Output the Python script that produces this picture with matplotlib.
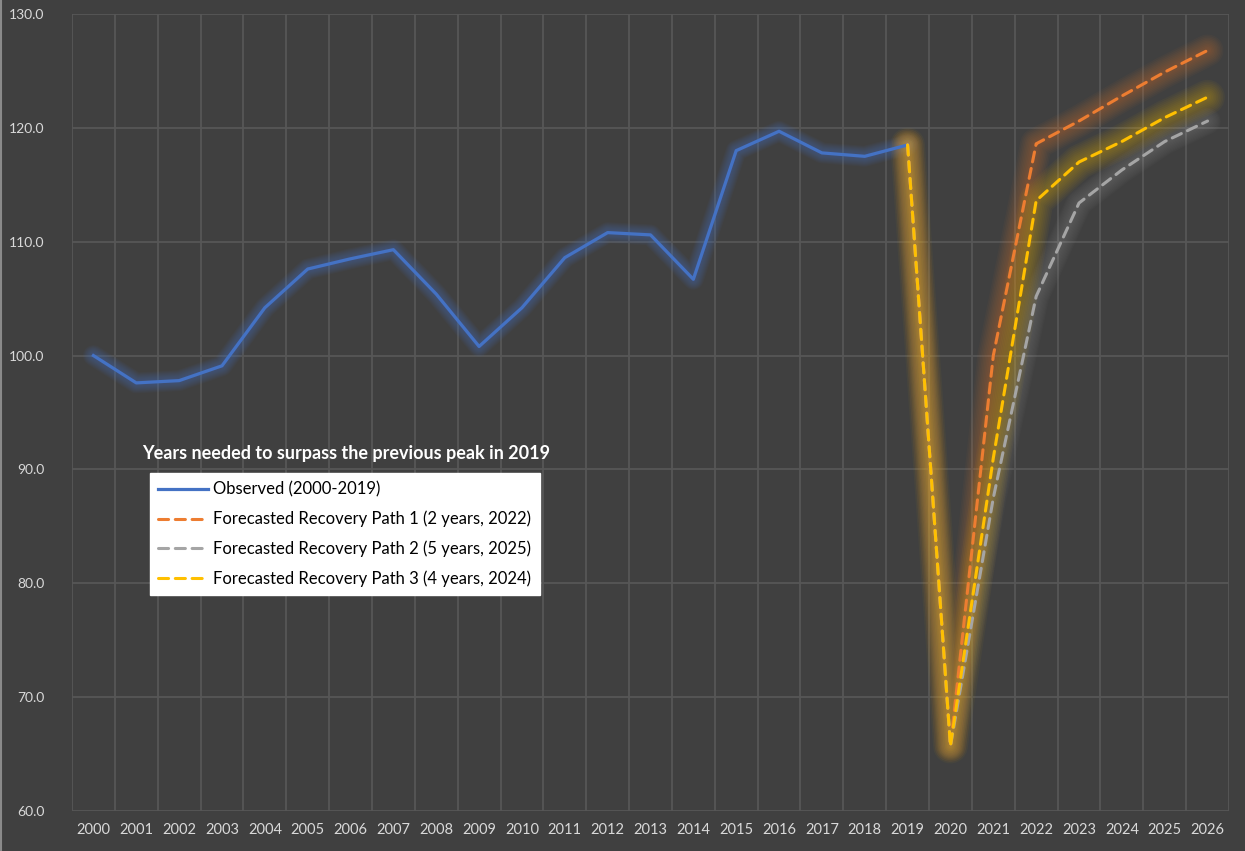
import matplotlib
matplotlib.use("Agg")
import matplotlib.pyplot as plt
import numpy as np

plt.rcParams['font.family'] = ['Lato', 'DejaVu Sans']

years = [str(y) for y in range(2000, 2027)]
observed = [100.0, 97.6, 97.8, 99.1, 104.2, 107.6, 108.5, 109.3, 105.4, 100.8,
            104.2, 108.6, 110.8, 110.6, 106.7, 118.0, 119.7, 117.8, 117.5, 118.5]
fc_years = years[19:]
path1 = [118.5, 65.7, 100.0, 118.6, 120.6, 122.8, 124.9, 126.8]
path2 = [118.5, 65.7, 87.5, 105.2, 113.4, 116.3, 118.8, 120.6]
path3 = [118.5, 65.7, 91.0, 113.6, 117.0, 118.8, 120.9, 122.7]

labels = ["Observed (2000-2019)",
          "Forecasted Recovery Path 1 (2 years, 2022)",
          "Forecasted Recovery Path 2 (5 years, 2025)",
          "Forecasted Recovery Path 3 (4 years, 2024)"]
colors = ["#4472C4", "#ED7D31", "#A5A5A5", "#FFC000"]
title = "Years needed to surpass the previous peak in 2019"

BG = "#404040"
GRID = "#575757"
TXT = "#d9d9d9"

fig = plt.figure(figsize=(12.45, 8.51), dpi=100, facecolor=BG)
ax = fig.add_axes([72/1245, 1-811/851, 1157/1245, 797/851])
ax.set_facecolor(BG)

x_all = np.arange(len(years))
x_obs = x_all[:len(observed)]
x_fc = x_all[19:19+len(path1)]

def glow(x, y, color, wmax, alpha, z, n=10):
    for w in np.linspace(wmax, 3, n):
        ax.plot(x, y, color=color, lw=w, alpha=alpha, solid_capstyle='round',
                solid_joinstyle='round', zorder=z)

# glows
glow(x_obs, observed, colors[0], 15, 0.05, 2)
glow(x_fc, path1, colors[1], 23, 0.04, 2)
glow(x_fc, path2, colors[2], 19, 0.03, 2)
glow(x_fc, path3, colors[3], 25, 0.04, 2)

handles = []
h0, = ax.plot(x_obs, observed, color=colors[0], lw=2.3, solid_joinstyle='round', zorder=5)
handles.append(h0)
for data, c, z in [(path1, colors[1], 6), (path2, colors[2], 6), (path3, colors[3], 7)]:
    h, = ax.plot(x_fc, data, color=c, lw=2.2, dashes=(3.3, 2.2),
                 dash_capstyle='round', dash_joinstyle='round', zorder=z)
    handles.append(h)

ax.set_xlim(-0.5, len(years) - 0.5)
ax.set_ylim(60, 130)
ax.set_xticks(x_all)
ax.set_xticklabels(years)
ax.set_xticks(np.arange(-0.5, len(years), 1.0), minor=True)
ax.set_yticks(np.arange(60, 131, 10))
ax.set_yticklabels([f"{v:.1f}" for v in np.arange(60, 131, 10)])
ax.grid(False)
ax.grid(True, which='minor', axis='x', color=GRID, lw=1.3, zorder=0)
ax.grid(True, which='major', axis='y', color=GRID, lw=1.3, zorder=0)
ax.set_axisbelow(True)
for s in ax.spines.values():
    s.set_visible(False)
ax.tick_params(axis='both', which='both', length=0, colors=TXT, labelsize=10)
ax.tick_params(axis='x', pad=9, labelsize=10.5)
ax.tick_params(axis='y', pad=20)

leg = fig.legend(handles, labels, loc='upper left',
                 bbox_to_anchor=(150/1245, 1-473/851), bbox_transform=fig.transFigure,
                 borderaxespad=0, frameon=True, fancybox=False, framealpha=1,
                 facecolor='white', edgecolor='white', fontsize=12,
                 handlelength=3.0, handletextpad=0.3, labelspacing=0.8,
                 borderpad=0.5)
for t in leg.get_texts():
    t.set_color('black')

fig.text(346/1245, 1-454/851, title, ha='center', va='center', fontsize=13,
         fontweight='bold', color='white')

fig.add_artist(plt.Line2D([0.0008, 0.0008], [0, 1], transform=fig.transFigure,
                          color='#8a8a8a', lw=1.5))

fig.savefig("out.png", dpi=100, facecolor=BG)
